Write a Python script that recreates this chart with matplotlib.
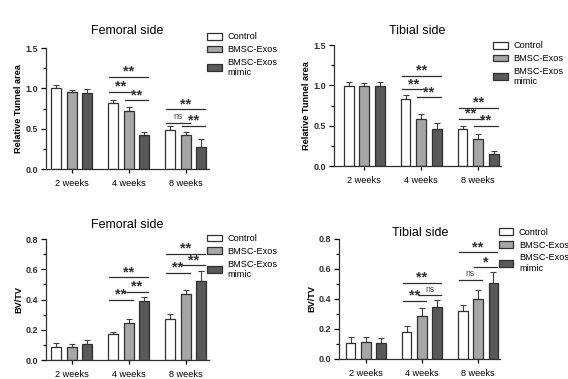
import matplotlib
matplotlib.use('Agg')
import matplotlib.pyplot as plt
import numpy as np
from matplotlib.ticker import MultipleLocator

plt.rcParams['font.family'] = ['Liberation Sans', 'DejaVu Sans']

groups = ['2 weeks', '4 weeks', '8 weeks']
series = ['Control', 'BMSC-Exos', 'BMSC-Exos\nmimic']
colors = ['#ffffff', '#a6a6a6', '#595959']

# Relative tunnel area - femoral side
fem_tun = [[1.00, 0.824, 0.48], [0.956, 0.717, 0.42], [0.944, 0.42, 0.276]]
fem_tun_err = [[0.045, 0.03, 0.05], [0.03, 0.05, 0.04], [0.05, 0.045, 0.10]]
# Relative tunnel area - tibial side
tib_tun = [[0.996, 0.83, 0.455], [0.988, 0.578, 0.33], [0.988, 0.455, 0.149]]
tib_tun_err = [[0.04, 0.05, 0.045], [0.037, 0.062, 0.063], [0.049, 0.082, 0.041]]
# BV/TV - femoral side
fem_bv = [[0.084, 0.17, 0.269], [0.088, 0.242, 0.434], [0.106, 0.388, 0.525]]
fem_bv_err = [[0.031, 0.017, 0.033], [0.02, 0.027, 0.029], [0.026, 0.026, 0.063]]
# BV/TV - tibial side
tib_bv = [[0.109, 0.177, 0.321], [0.113, 0.286, 0.401], [0.106, 0.346, 0.505]]
tib_bv_err = [[0.037, 0.042, 0.038], [0.035, 0.053, 0.06], [0.034, 0.044, 0.073]]

# significance marks: (group, bar_a, bar_b, y, label)
fem_tun_sig = [(1, 0, 2, 1.14, '**'), (1, 0, 1, 0.956, '**'), (1, 1, 2, 0.853, '**'),
               (2, 0, 2, 0.74, '**'), (2, 0, 1, 0.577, 'ns'), (2, 1, 2, 0.536, '**')]
tib_tun_sig = [(1, 0, 2, 1.12, '**'), (1, 0, 1, 0.95, '**'), (1, 1, 2, 0.85, '**'),
               (2, 0, 2, 0.723, '**'), (2, 0, 1, 0.583, '**'), (2, 1, 2, 0.50, '**')]
fem_bv_sig = [(1, 0, 2, 0.547, '**'), (1, 0, 1, 0.397, '**'), (1, 1, 2, 0.452, '**'),
              (2, 0, 2, 0.705, '**'), (2, 0, 1, 0.577, '**'), (2, 1, 2, 0.626, '**')]
tib_bv_sig = [(1, 0, 2, 0.505, '**'), (1, 0, 1, 0.388, '**'), (1, 1, 2, 0.423, 'ns'),
              (2, 0, 2, 0.709, '**'), (2, 0, 1, 0.527, 'ns'), (2, 1, 2, 0.609, '*')]

offset = 0.275
width = 0.175


def draw_panel(ax, vals, errs, sigs, title, ylabel, ymax, ystep, xlim, title_pad, leg_anchor):
    x = np.arange(len(groups))
    for i in range(3):
        pos = x + (i - 1) * offset
        ax.bar(pos, vals[i], width, color=colors[i], edgecolor='#303030', linewidth=0.9,
               label=series[i], zorder=2)
        ax.errorbar(pos, vals[i], yerr=[np.zeros(3), errs[i]], fmt='none',
                    ecolor='#404040', elinewidth=0.8, capsize=2.5, capthick=0.8, zorder=1)
    for g, a, b, y, lab in sigs:
        x1 = g + (a - 1) * offset - 0.07
        x2 = g + (b - 1) * offset + 0.07
        ax.plot([x1, x2], [y, y], color='#303030', lw=0.9, clip_on=False)
        if lab == 'ns':
            ax.text((x1 + x2) / 2, y + ymax * 0.015, lab, ha='center', va='bottom',
                    fontsize=6.3, color='#505050')
        else:
            ax.text((x1 + x2) / 2, y - ymax * 0.015, lab, ha='center', va='bottom',
                    fontsize=10.5, fontweight='bold', color='#303030')
    ax.set_xlim(*xlim)
    ax.set_ylim(0, ymax)
    ax.set_xticks(x)
    ax.set_xticklabels(groups, fontsize=6.6)
    ax.yaxis.set_major_locator(MultipleLocator(ystep))
    ax.yaxis.set_minor_locator(MultipleLocator(ystep / 2))
    ax.tick_params(axis='y', which='major', labelsize=6.5, length=3.5, width=0.9, pad=2)
    ax.tick_params(axis='y', which='minor', length=2, width=0.9)
    ax.tick_params(axis='x', length=3, width=0.9, pad=4)
    for t in ax.get_yticklabels():
        t.set_fontweight('bold')
        t.set_color('#303030')
    ax.set_ylabel(ylabel, fontsize=6.6, fontweight='bold', labelpad=2)
    ax.set_title(title, fontsize=9, pad=title_pad)
    for s in ['top', 'right']:
        ax.spines[s].set_visible(False)
    for s in ['left', 'bottom']:
        ax.spines[s].set_linewidth(0.9)
        ax.spines[s].set_color('#303030')
    ax.legend(loc='upper left', bbox_to_anchor=leg_anchor, frameon=False, fontsize=6.6,
              handlelength=1.6, handleheight=0.75, handletextpad=0.6, labelspacing=0.4,
              borderaxespad=0, borderpad=0)


fig = plt.figure(figsize=(5.68, 3.79), dpi=100)
ax1 = fig.add_axes([0.081, 0.554, 0.287, 0.319])
ax2 = fig.add_axes([0.588, 0.562, 0.294, 0.319])
ax3 = fig.add_axes([0.081, 0.050, 0.287, 0.319])
ax4 = fig.add_axes([0.597, 0.053, 0.284, 0.317])

draw_panel(ax1, fem_tun, fem_tun_err, fem_tun_sig, 'Femoral side', 'Relative Tunnel area',
           1.5, 0.5, (-0.45, 2.41), 10, (0.99, 1.13))
draw_panel(ax2, tib_tun, tib_tun_err, tib_tun_sig, 'Tibial side', 'Relative Tunnel area',
           1.5, 0.5, (-0.53, 2.40), 8, (0.952, 1.03))
draw_panel(ax3, fem_bv, fem_bv_err, fem_bv_sig, 'Femoral side', 'BV/TV',
           0.8, 0.2, (-0.45, 2.41), 8, (0.99, 1.04))
draw_panel(ax4, tib_bv, tib_bv_err, tib_bv_sig, 'Tibial side', 'BV/TV',
           0.8, 0.2, (-0.48, 2.40), 1, (0.99, 1.09))

fig.savefig('out.png', dpi=100, facecolor='white')
